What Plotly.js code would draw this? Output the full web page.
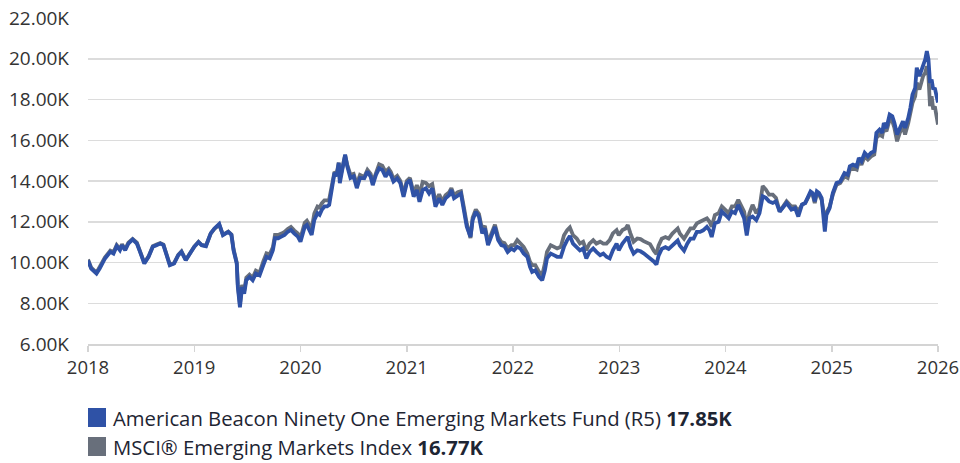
<!DOCTYPE html>
<html>
<head>
<meta charset="utf-8">
<script src="https://cdn.plot.ly/plotly-3.0.1.min.js"></script>
<style>
  html, body { margin: 0; padding: 0; background: #ffffff; }
  #chart { width: 960px; height: 463px; }
</style>
</head>
<body>
<div id="chart"></div>
<script>
// Dates as decimal years
const dates = [
  2018.00,2018.03,2018.08,2018.11,2018.16,2018.21,2018.24,2018.27,2018.30,2018.32,
  2018.35,2018.38,2018.42,2018.46,2018.49,2018.53,2018.57,2018.61,2018.645,2018.68,
  2018.71,2018.74,2018.77,2018.81,2018.85,2018.88,2018.92,2018.96,2019.00,2019.04,
  2019.07,2019.11,2019.155,2019.19,2019.235,2019.27,
  2019.30,2019.32,2019.35,2019.37,2019.40,2019.41,2019.43,2019.45,2019.47,2019.49,
  2019.52,2019.55,2019.58,2019.615,2019.65,2019.68,2019.71,2019.74,2019.76,2019.79,
  2019.82,2019.85,2019.88,2019.91,2019.94,2019.975,2020.00,2020.04,2020.06,2020.085,
  2020.105,2020.13,2020.16,2020.18,2020.20,2020.225,2020.25,2020.27,2020.29,2020.32,
  2020.34,2020.36,2020.37,2020.40,2020.42,2020.44,2020.47,2020.50,2020.53,2020.56,
  2020.60,2020.63,2020.66,2020.68,2020.71,2020.74,2020.77,2020.80,2020.83,2020.85,
  2020.875,2020.91,2020.94,2020.97,2021.00,2021.03,2021.065,2021.095,2021.12,2021.15,
  2021.18,2021.21,2021.24,2021.27,2021.305,2021.335,2021.365,2021.40,2021.42,2021.445,
  2021.48,2021.51,2021.54,2021.565,2021.60,2021.62,2021.65,2021.68,2021.71,2021.735,
  2021.765,2021.80,2021.83,2021.86,2021.89,2021.92,2021.95,2021.985,
  2022.01,2022.04,2022.07,2022.10,2022.135,2022.16,2022.18,2022.21,2022.245,2022.275,
  2022.30,2022.32,2022.355,2022.385,2022.415,2022.45,2022.48,2022.51,2022.535,2022.565,
  2022.60,2022.63,2022.66,2022.69,2022.72,2022.755,2022.785,2022.82,2022.85,2022.88,
  2022.91,2022.94,2022.975,2022.995,2023.03,2023.06,2023.08,2023.105,2023.135,2023.17,
  2023.20,
  2023.23,2023.26,2023.29,2023.325,2023.35,2023.37,2023.40,2023.435,2023.465,2023.50,
  2023.53,2023.55,2023.57,2023.61,2023.64,2023.67,2023.70,2023.73,2023.76,2023.79,
  2023.825,2023.85,2023.87,2023.90,2023.935,2023.965,2024.00,2024.03,2024.06,2024.09,
  2024.12,2024.155,2024.175,2024.20,2024.225,2024.255,2024.29,2024.32,2024.35,2024.38,
  2024.41,2024.445,2024.475,2024.51,2024.54,2024.575,
  2024.62,2024.655,2024.685,2024.72,2024.75,2024.78,2024.80,2024.82,2024.84,2024.86,
  2024.88,2024.905,2024.92,2024.935,2024.95,2024.98,2025.01,2025.045,2025.08,2025.10,
  2025.12,2025.15,2025.17,2025.20,2025.235,2025.255,2025.28,2025.31,2025.34,2025.37,
  2025.40,2025.42,2025.45,2025.475,2025.49,2025.515,2025.545,2025.57,2025.59,2025.615,
  2025.64,2025.67,2025.69,2025.72,2025.74,2025.76,2025.785,2025.80,2025.825,2025.845,
  2025.86,2025.88,2025.895,2025.91,2025.925,2025.94,2025.955,2025.97,2025.99,2026.00
];

// American Beacon Ninety One Emerging Markets Fund (R5), value in K
const fundValues = [
  10.1,9.7,9.46,9.7,10.2,10.52,10.44,10.8,10.6,10.85,
  10.6,10.93,11.13,10.93,10.52,9.95,10.28,10.77,10.85,10.93,
  10.85,10.28,9.87,9.95,10.36,10.52,10.11,10.44,10.77,11.0,
  10.85,10.8,11.43,11.67,11.89,11.34,
  11.43,11.5,11.35,10.6,9.95,8.8,7.8,8.8,8.47,9.13,
  9.29,9.13,9.46,9.37,9.87,10.28,10.2,10.6,11.19,11.19,
  11.27,11.35,11.51,11.6,11.43,11.27,11.02,11.76,11.84,11.6,
  11.35,12.09,12.42,12.34,12.58,12.75,12.75,12.83,13.57,14.4,
  14.23,14.89,13.9,14.72,15.3,14.72,14.15,14.23,13.65,14.15,
  14.13,14.46,14.21,13.8,14.3,14.62,14.54,14.21,14.46,14.3,
  13.97,14.13,13.89,13.23,13.89,14.05,13.23,13.56,12.98,13.56,
  13.64,13.39,13.64,12.74,13.15,12.82,13.15,13.31,13.56,13.15,
  13.31,13.39,12.49,11.75,11.26,12.08,12.49,12.25,11.43,11.67,
  10.85,11.34,11.75,11.1,10.85,10.8,10.52,10.68,
  10.6,10.77,10.69,10.44,10.28,9.79,9.54,9.62,9.3,9.13,
  9.62,10.2,10.44,10.36,10.28,10.28,10.77,11.1,11.3,10.93,
  10.77,10.6,10.69,10.2,10.52,10.69,10.52,10.36,10.44,10.28,
  10.2,10.6,10.93,10.6,10.93,11.1,11.26,10.77,10.44,10.6,
  10.55,
  10.45,10.33,10.2,10.05,9.9,10.33,10.67,10.75,10.67,10.83,
  11.0,11.08,10.83,10.58,10.92,11.17,11.17,11.5,11.5,11.58,
  11.75,11.58,11.25,11.92,12.0,12.5,12.33,12.17,12.5,12.42,
  12.83,12.33,12.17,11.33,12.17,12.25,12.08,12.42,13.25,13.17,
  13.0,12.92,13.0,12.5,12.67,12.92,
  12.59,12.67,12.26,12.84,12.92,13.25,13.49,13.41,13.0,13.49,
  13.41,13.16,12.43,11.52,12.34,12.67,13.41,13.9,13.98,14.15,
  14.39,14.31,14.72,14.8,14.72,15.13,14.97,15.38,15.21,15.38,
  15.46,16.36,16.52,16.36,16.85,16.6,17.26,17.18,16.85,16.28,
  16.6,16.93,16.6,17.1,17.59,18.25,18.57,19.56,19.15,19.48,
  19.72,19.97,20.38,19.97,18.82,18.98,18.49,18.57,18.08,17.85
];

// MSCI Emerging Markets Index, value in K
const indexValues = [
  10.15,9.75,9.5,9.78,10.25,10.58,10.5,10.85,10.66,10.9,
  10.65,10.97,11.15,10.97,10.55,9.98,10.3,10.8,10.88,10.95,
  10.88,10.3,9.9,9.97,10.38,10.55,10.13,10.45,10.78,11.02,
  10.86,10.82,11.42,11.65,11.85,11.36,
  11.45,11.52,11.38,10.65,10.0,8.9,7.95,8.9,8.6,9.25,
  9.4,9.25,9.6,9.5,10.05,10.45,10.4,10.75,11.35,11.35,
  11.42,11.5,11.65,11.75,11.58,11.42,11.2,11.95,12.05,11.85,
  11.65,12.4,12.75,12.7,12.9,13.05,13.05,13.1,13.75,14.45,
  14.35,14.9,14.1,14.75,15.25,14.8,14.3,14.35,13.85,14.3,
  14.2,14.55,14.35,13.95,14.45,14.82,14.75,14.45,14.6,14.45,
  14.1,14.25,14.0,13.35,14.0,14.15,13.4,13.8,13.35,13.95,
  13.9,13.75,13.85,12.95,13.35,13.0,13.3,13.45,13.65,13.3,
  13.45,13.5,12.65,11.9,11.2,12.2,12.6,12.38,11.6,11.8,
  11.0,11.5,11.85,11.25,11.0,10.95,10.7,10.85,
  10.85,11.1,10.93,10.77,10.44,10.03,9.87,9.87,9.54,9.38,
  9.95,10.52,10.85,10.77,10.69,10.77,11.34,11.59,11.72,11.34,
  11.18,10.93,11.02,10.6,10.93,11.1,10.93,11.02,10.93,10.93,
  11.1,11.43,11.59,11.34,11.59,11.67,11.84,11.43,11.02,11.18,
  11.15,
  11.05,10.98,10.9,10.58,10.42,10.83,11.17,11.25,11.17,11.42,
  11.58,11.67,11.42,11.17,11.42,11.67,11.67,11.92,12.0,12.08,
  12.17,12.0,11.75,12.33,12.42,12.75,12.58,12.42,12.75,12.75,
  13.08,12.67,12.5,11.75,12.42,12.83,12.42,12.67,13.75,13.58,
  13.33,13.33,13.17,12.5,12.75,13.0,
  12.75,12.75,12.51,12.84,12.92,13.25,13.41,13.33,12.92,13.41,
  13.33,13.08,12.59,12.1,12.43,12.75,13.33,13.82,13.9,14.07,
  14.23,14.15,14.56,14.64,14.56,14.97,14.8,15.21,15.05,15.21,
  15.3,16.11,16.28,16.2,16.6,16.44,17.02,16.93,16.6,15.95,
  16.36,16.69,16.28,16.85,17.26,17.84,18.16,18.82,18.49,18.82,
  19.15,19.31,19.64,19.15,17.67,18.16,17.51,17.67,17.02,16.77
];

const yearTicks = [2018, 2019, 2020, 2021, 2022, 2023, 2024, 2025, 2026];
const yearLabels = ["2018", "2019", "2020", "2021", "2022", "2023", "2024", "2025", "2026"];
const yTicks = [6, 8, 10, 12, 14, 16, 18, 20, 22];
const yLabels = ["6.00K", "8.00K", "10.00K", "12.00K", "14.00K", "16.00K", "18.00K", "20.00K", "22.00K"];

const seriesNames = ["American Beacon Ninety One Emerging Markets Fund (R5)", "MSCI® Emerging Markets Index"];
const finalLabels = ["17.85K", "16.77K"];

const BLUE = "#2f52a6";
const GRAY = "#686f7b";
const FONT = "'Open Sans', 'Noto Sans', sans-serif";

const traces = [
  { x: dates, y: indexValues, type: "scatter", mode: "lines", name: seriesNames[1],
    line: { color: GRAY, width: 3.8 }, showlegend: false, hoverinfo: "skip" },
  { x: dates, y: fundValues, type: "scatter", mode: "lines", name: seriesNames[0],
    line: { color: BLUE, width: 3.8 }, showlegend: false, hoverinfo: "skip" }
];

// legend drawn as squares + text in paper coords
const PL = 88, PW = 850;
const px = v => (v - PL) / PW;
const py = v => (344 - v) / 326;

const layout = {
  width: 960, height: 463,
  margin: { l: 88, r: 22, t: 18, b: 119, pad: 0 },
  paper_bgcolor: "#ffffff", plot_bgcolor: "#ffffff",
  font: { family: FONT, size: 19, color: "#333333" },
  showlegend: false,
  hovermode: false,
  xaxis: {
    type: "linear", range: [2018, 2026],
    tickmode: "array", tickvals: yearTicks, ticktext: yearLabels,
    ticklabeloverflow: "allow",
    showgrid: false, zeroline: false,
    showline: true, linecolor: "#d4d4d4", linewidth: 1.5,
    ticks: "outside", ticklen: 6, tickwidth: 1.5, tickcolor: "#d4d4d4",
    tickfont: { family: FONT, size: 18.5, color: "#333333" },
    fixedrange: true
  },
  yaxis: {
    range: [6, 22], tickmode: "array", tickvals: yTicks, ticktext: yLabels,
    showgrid: true, gridcolor: "#dcdcdc", gridwidth: 1.5,
    zeroline: false, showline: false, ticks: "",
    ticklabelstandoff: 18,
    tickfont: { family: FONT, size: 19, color: "#333333" },
    fixedrange: true
  },
  shapes: [
    { type: "rect", xref: "paper", yref: "paper", x0: px(88), x1: px(106), y0: py(427), y1: py(408),
      fillcolor: BLUE, line: { width: 0 } },
    { type: "rect", xref: "paper", yref: "paper", x0: px(88), x1: px(106), y0: py(456), y1: py(437),
      fillcolor: GRAY, line: { width: 0 } }
  ],
  annotations: [
    { xref: "paper", yref: "paper", x: px(111), y: py(417.5), xanchor: "left", yanchor: "middle",
      showarrow: false, text: seriesNames[0] + " <b>" + finalLabels[0] + "</b>",
      font: { family: FONT, size: 20.3, color: "#1e2533" } },
    { xref: "paper", yref: "paper", x: px(111), y: py(446.5), xanchor: "left", yanchor: "middle",
      showarrow: false, text: seriesNames[1] + " <b>" + finalLabels[1] + "</b>",
      font: { family: FONT, size: 20.3, color: "#1e2533" } }
  ]
};

Plotly.newPlot("chart", traces, layout, { staticPlot: true, displayModeBar: false });
</script>
</body>
</html>
